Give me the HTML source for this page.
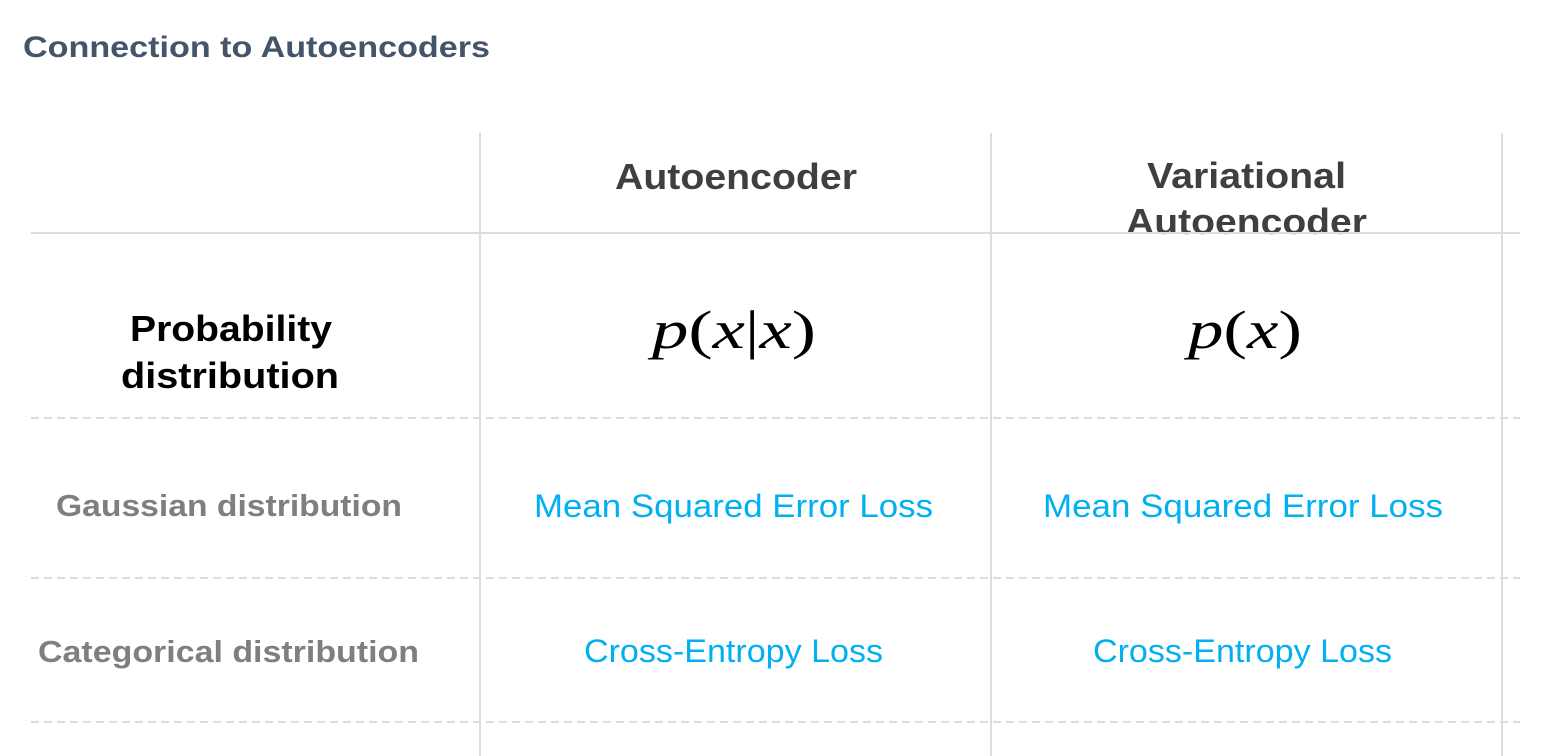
<!DOCTYPE html>
<html><head><meta charset="utf-8"><style>html,body{margin:0;padding:0;background:#fff}svg{display:block}</style></head>
<body>
<svg width="1546" height="756" viewBox="0 0 1546 756" xmlns="http://www.w3.org/2000/svg" font-family="Liberation Sans, sans-serif">
<rect width="1546" height="756" fill="#fff"/>
<text x="23" y="57" font-size="30" font-weight="bold" fill="#44546a" textLength="467" lengthAdjust="spacingAndGlyphs">Connection to Autoencoders</text>
<g fill="#3f3f3f" font-weight="bold" font-size="36">
<text x="615" y="189" textLength="242" lengthAdjust="spacingAndGlyphs">Autoencoder</text>
<text x="1147" y="188" textLength="199" lengthAdjust="spacingAndGlyphs">Variational</text>
<text x="1126" y="234" textLength="241" lengthAdjust="spacingAndGlyphs">Autoencoder</text>
</g>
<g fill="#000" font-weight="bold" font-size="36">
<text x="130" y="341" textLength="202" lengthAdjust="spacingAndGlyphs">Probability</text>
<text x="121" y="388" textLength="218" lengthAdjust="spacingAndGlyphs">distribution</text>
</g>
<g fill="#000" font-family="Liberation Serif, serif" font-size="54">
<text x="652" y="348" textLength="164" lengthAdjust="spacingAndGlyphs"><tspan font-style="italic">p</tspan>(<tspan font-style="italic">x</tspan>|<tspan font-style="italic">x</tspan>)</text>
<text x="1188" y="348" textLength="114" lengthAdjust="spacingAndGlyphs"><tspan font-style="italic">p</tspan>(<tspan font-style="italic">x</tspan>)</text>
</g>
<g fill="#7f7f7f" font-weight="bold" font-size="31">
<text x="56" y="516" textLength="346" lengthAdjust="spacingAndGlyphs">Gaussian distribution</text>
<text x="38" y="662" textLength="381" lengthAdjust="spacingAndGlyphs">Categorical distribution</text>
</g>
<g fill="#00b0f0" font-size="32">
<text x="534" y="517" textLength="399" lengthAdjust="spacingAndGlyphs">Mean Squared Error Loss</text>
<text x="1043" y="517" textLength="400" lengthAdjust="spacingAndGlyphs">Mean Squared Error Loss</text>
<text x="584" y="662" textLength="299" lengthAdjust="spacingAndGlyphs">Cross-Entropy Loss</text>
<text x="1093" y="662" textLength="299" lengthAdjust="spacingAndGlyphs">Cross-Entropy Loss</text>
</g>
<g stroke="#dcdcdc" stroke-width="2">
<line x1="480" y1="133" x2="480" y2="756"/>
<line x1="991" y1="133" x2="991" y2="756"/>
<line x1="1502" y1="133" x2="1502" y2="756"/>
<line x1="31" y1="233" x2="1520" y2="233"/>
</g>
<g stroke="#dcdcdc" stroke-width="2" stroke-dasharray="8,5">
<line x1="31" y1="418" x2="1520" y2="418"/>
<line x1="31" y1="578" x2="1520" y2="578"/>
<line x1="31" y1="722" x2="1520" y2="722"/>
</g>
</svg>
</body></html>
